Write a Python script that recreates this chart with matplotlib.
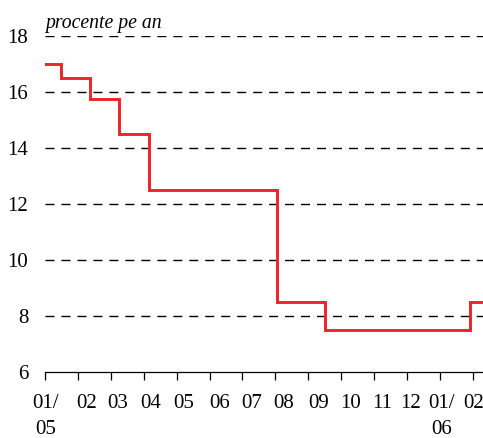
import matplotlib
matplotlib.use("Agg")
import matplotlib.pyplot as plt

# Policy rate changes (x in months since start of Jan 2005)
change_points = [0.0, 0.48, 1.37, 2.26, 3.17, 7.04, 8.50, 12.90, 13.31]
rates = [17.0, 16.5, 15.75, 14.5, 12.5, 8.5, 7.5, 8.5, 8.5]

tick_labels = ["01/\n05", "02", "03", "04", "05", "06", "07", "08", "09",
               "10", "11", "12", "01/\n06", "02"]
y_ticks = [6, 8, 10, 12, 14, 16, 18]

# label shift (in months) relative to tick marks, as seen in the reference
label_shift = [0.03, 0.25, 0.2, 0.21, 0.21, 0.3, 0.28, 0.25, 0.3, 0.28, 0.25,
               0.1, 0.06, 0.03]

plt.rcParams['font.family'] = ['Liberation Serif', 'DejaVu Serif']

fig = plt.figure(figsize=(4.83, 4.38), dpi=100)
ax = fig.add_axes([45/483, 1 - 372/438, 1 - 45/483, (372 - 36)/438])

ax.step(change_points, rates, where='post', color='#ee2328', lw=2.1,
        solid_joinstyle='miter', zorder=3)

ax.set_ylim(6, 18)
ax.set_xlim(0, 13.31)
ax.set_yticks(y_ticks)
ax.set_yticklabels([str(v) for v in y_ticks], fontsize=15)

ax.set_xticks(range(len(tick_labels)))
ax.set_xticklabels([])
ax.set_xticks([i + s for i, s in enumerate(label_shift)], minor=True)
ax.set_xticklabels(tick_labels, minor=True, fontsize=15, linespacing=1.5)

for v in y_ticks[1:]:
    ax.axhline(v, color='black', lw=1.0, ls=(0, (6.5, 5)), zorder=1)

for s in ['top', 'right', 'left']:
    ax.spines[s].set_visible(False)
ax.spines['bottom'].set_linewidth(0.9)
ax.tick_params(axis='y', length=0, pad=12)
ax.tick_params(axis='x', which='major', direction='out', length=6, width=0.9)
ax.tick_params(axis='x', which='minor', length=0, pad=16)

ax.text(0.0, 18.1, "procente pe an", fontsize=14.2, style='italic',
        ha='left', va='bottom')

fig.savefig("out.png", dpi=100)
